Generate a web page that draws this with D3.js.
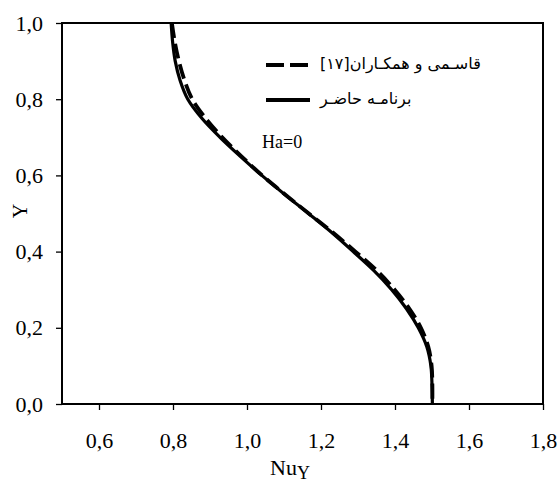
<!DOCTYPE html>
<html>
<head>
<meta charset="utf-8">
<script src="https://cdn.jsdelivr.net/npm/d3@7"></script>
<style>
  html, body { margin: 0; padding: 0; background: #fff; }
  svg { display: block; }
</style>
</head>
<body>
<svg id="chart" width="560" height="485"></svg>
<script>
// Vertical position Y across the channel
const yLevels = [1.0, 0.95, 0.9, 0.85, 0.8, 0.75, 0.7, 0.65, 0.6, 0.55, 0.5,
                 0.45, 0.4, 0.35, 0.3, 0.25, 0.2, 0.15, 0.1, 0.05, 0.0];
// Local Nusselt number, reference solution (Ghasemi et al. [17])
const nuReference = [0.797, 0.805, 0.816, 0.831, 0.852, 0.888, 0.933, 0.985, 1.041, 1.103, 1.167,
                     1.232, 1.293, 1.351, 1.399, 1.439, 1.470, 1.490, 1.499, 1.501, 1.501];
// Local Nusselt number, present code
const nuPresent = [0.795, 0.799, 0.806, 0.819, 0.840, 0.878, 0.927, 0.982, 1.040, 1.102, 1.166,
                   1.229, 1.287, 1.343, 1.391, 1.431, 1.463, 1.486, 1.497, 1.500, 1.501];

const xTicks = [0.6, 0.8, 1.0, 1.2, 1.4, 1.6, 1.8];
const yTicks = [0.0, 0.2, 0.4, 0.6, 0.8, 1.0];
const legendLabels = ["قاسـمی و همکـاران[۱۷]", "برنامـه حاضـر"];
const caseLabel = "Ha=0";

const svg = d3.select("#chart");
const margin = { left: 62, right: 17, top: 23, bottom: 81 };
const W = 560, H = 485;
const iw = W - margin.left - margin.right;
const ih = H - margin.top - margin.bottom;

const x = d3.scaleLinear().domain([0.5, 1.8]).range([margin.left, margin.left + iw]);
const y = d3.scaleLinear().domain([0, 1]).range([margin.top + ih, margin.top]);

const fmt = d => d3.format(".1f")(d).replace(".", ",");
const tickFont = "'Liberation Serif', serif";

// x axis
const gx = svg.append("g")
  .attr("transform", `translate(0,${margin.top + ih})`)
  .call(d3.axisBottom(x).tickValues(xTicks).tickFormat(fmt).tickSize(6).tickPadding(22));
// y axis
const gy = svg.append("g")
  .attr("transform", `translate(${margin.left},0)`)
  .call(d3.axisLeft(y).tickValues(yTicks).tickFormat(fmt).tickSize(6).tickPadding(13));

[gx, gy].forEach(g => {
  g.attr("font-family", null).attr("font-size", null);
  g.select(".domain").remove();
  g.selectAll(".tick line").attr("stroke", "#000").attr("stroke-width", 1.3);
  g.selectAll(".tick text")
    .attr("fill", "#000")
    .style("font-family", tickFont)
    .style("font-weight", "normal")
    .style("font-size", "22px");
});
gy.selectAll(".tick text").attr("dy", "0.32em");

// Curves
const line = vals => d3.line()
  .x((d, i) => x(vals[i]))
  .y(d => y(d))
  .curve(d3.curveCatmullRom.alpha(0.5))(yLevels);

const plot = svg.append("g");
plot.append("path")
  .attr("d", line(nuPresent))
  .attr("fill", "none")
  .attr("stroke", "#000")
  .attr("stroke-width", 3.2);
plot.append("path")
  .attr("d", line(nuReference))
  .attr("fill", "none")
  .attr("stroke", "#000")
  .attr("stroke-width", 3.8)
  .attr("stroke-dasharray", "15,6");

// Frame
svg.append("rect")
  .attr("x", margin.left).attr("y", margin.top)
  .attr("width", iw).attr("height", ih)
  .attr("fill", "none")
  .attr("stroke", "#000")
  .attr("stroke-width", 2);

// Legend
const legend = svg.append("g");
const legendRows = [
  { y: 65, dash: "18,6", label: legendLabels[0] },
  { y: 100, dash: null, label: legendLabels[1] }
];
legendRows.forEach(r => {
  legend.append("line")
    .attr("x1", 266).attr("x2", 310)
    .attr("y1", r.y).attr("y2", r.y)
    .attr("stroke", "#000")
    .attr("stroke-width", 3.8)
    .attr("stroke-dasharray", r.dash);
  legend.append("text")
    .attr("x", 320).attr("y", r.y + 4)
    .attr("direction", "rtl")
    .attr("text-anchor", "end")
    .style("font-family", "'DejaVu Sans', sans-serif")
    .style("font-size", "16px")
    .text(r.label);
});

svg.append("text")
  .attr("x", 262).attr("y", 148)
  .style("font-family", "'Liberation Serif', serif")
  .style("font-size", "18px")
  .text(caseLabel);

// Axis titles
const xt = svg.append("text")
  .attr("x", 290).attr("y", 475)
  .attr("text-anchor", "middle")
  .style("font-family", tickFont)
  .style("font-size", "22px");
xt.append("tspan").text("Nu");
xt.append("tspan").attr("dy", 4).style("font-size", "18px").text("Y");

svg.append("text")
  .attr("transform", "translate(27,211) rotate(-90)")
  .attr("text-anchor", "middle")
  .style("font-family", tickFont)
  .style("font-size", "20px")
  .text("Y");
</script>
</body>
</html>
